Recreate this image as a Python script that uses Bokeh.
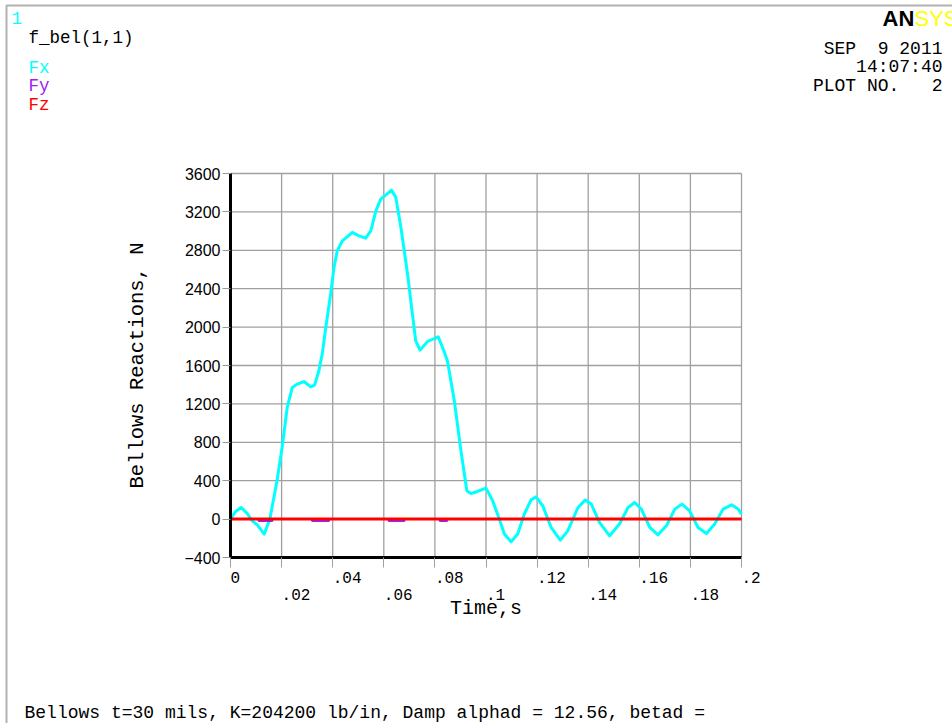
from bokeh.plotting import figure
from bokeh.models import Range1d, FixedTicker, LinearAxis, Label, BoxAnnotation
from bokeh.embed import file_html
from bokeh.resources import INLINE

# ---------------- data ----------------
time_fx = [0.0, 0.002, 0.0042, 0.0065, 0.0085, 0.0105, 0.0132, 0.0154, 0.0182, 0.0202,
           0.0222, 0.0242, 0.0261, 0.0287, 0.0314, 0.0329, 0.0346, 0.0359, 0.0373, 0.0392,
           0.0405, 0.0418, 0.0438, 0.0477, 0.0503, 0.0529, 0.0549, 0.0569, 0.0588, 0.0612,
           0.0630, 0.0647, 0.0667, 0.0693, 0.0712, 0.0725, 0.0742, 0.0771, 0.0813, 0.0830,
           0.0849, 0.0876, 0.0902, 0.0925, 0.0941, 0.0967, 0.1000, 0.1026, 0.1052, 0.1072,
           0.1098, 0.1124, 0.1150, 0.1176, 0.1196, 0.1222, 0.1255, 0.1291, 0.1320, 0.1360,
           0.1388, 0.1412, 0.1444, 0.1484, 0.1523, 0.1556, 0.1582, 0.1608, 0.1641, 0.1673,
           0.1706, 0.1739, 0.1767, 0.1797, 0.1830, 0.1863, 0.1895, 0.1928, 0.1961, 0.1987,
           0.2000]
fx = [0, 80, 121, 60, -18, -60, -156, 0, 399, 746,
      1163, 1371, 1406, 1433, 1378, 1396, 1545, 1719, 1996, 2344,
      2621, 2795, 2899, 2986, 2951, 2927, 3003, 3211, 3333, 3385,
      3427, 3350, 3038, 2552, 2135, 1857, 1760, 1850, 1899, 1788,
      1649, 1232, 711, 295, 267, 288, 323, 191, 0, -156,
      -236, -156, 52, 198, 232, 139, -87, -219, -122, 121,
      198, 156, -35, -174, -49, 121, 173, 104, -87, -164,
      -70, 104, 156, 86, -87, -150, -52, 104, 149, 104,
      52]
time_fy = [0.0, 0.0108, 0.0111, 0.0163, 0.0166, 0.0317, 0.0320, 0.0385, 0.0388,
           0.0617, 0.0620, 0.0680, 0.0683, 0.0817, 0.0820, 0.0847, 0.0850, 0.2]
fy = [0, 0, -20, -20, 0, 0, -20, -20, 0,
      0, -20, -20, 0, 0, -20, -20, 0, 0]
time_fz = [0.0, 0.2]
fz = [0, 0]

y_ticks = [-400, 0, 400, 800, 1200, 1600, 2000, 2400, 2800, 3200, 3600]
y_tick_labels = ["\u2212400", "0", "400", "800", "1200", "1600", "2000", "2400", "2800", "3200", "3600"]
x_ticks_upper = [0.0, 0.04, 0.08, 0.12, 0.16, 0.2]
x_labels_upper = ["0", ".04", ".08", ".12", ".16", ".2"]
x_ticks_lower = [0.02, 0.06, 0.1, 0.14, 0.18]
x_labels_lower = [".02", ".06", ".1", ".14", ".18"]
x_min, x_max = 0.0, 0.2
y_min, y_max = -400, 3600

series_names = ["Fx", "Fy", "Fz"]
series_colors = ["#00FFFF", "#A020F0", "#FF0000"]

# ---------------- layout (pixels) ----------------
W, H = 952, 723
PL, PR, PT, PB = 230, 741, 173, 557      # chart area inside the canvas
MONO = "Liberation Mono"
SANS = "Liberation Sans"
GRID = "#A0A0A0"

sx_per = (PR - PL) / (x_max - x_min)
sy_per = (PB - PT) / (y_max - y_min)
x_range = Range1d(x_min - PL / sx_per, x_max + (W - PR) / sx_per)
y_range = Range1d(y_min - (H - PB) / sy_per, y_max + PT / sy_per)

p = figure(width=W, height=H, output_backend="svg", toolbar_location=None,
           x_range=x_range, y_range=y_range, x_axis_location=None, y_axis_location=None,
           min_border=0, background_fill_color="white", border_fill_color="white")
p.title.visible = False
p.outline_line_color = None
p.xgrid.visible = False
p.ygrid.visible = False


def left_pad(s):
    # leading no-break spaces so a centred monospace label starts at its tick
    return "\u00a0" * len(s) + s


# grid lines limited to the chart area
x_grid = sorted(x_ticks_upper + x_ticks_lower)
p.segment(x0=x_grid, y0=[y_min] * len(x_grid), x1=x_grid, y1=[y_max] * len(x_grid),
          line_color=GRID, line_width=1.3, level="underlay")
p.segment(x0=[x_min] * len(y_ticks), y0=y_ticks, x1=[x_max] * len(y_ticks), y1=y_ticks,
          line_color=GRID, line_width=1.3, level="underlay")

# y axis
ya = LinearAxis(fixed_location=x_min, bounds=(y_min, y_max),
                ticker=FixedTicker(ticks=y_ticks),
                major_label_overrides={t: l for t, l in zip(y_ticks, y_tick_labels)})
ya.axis_line_color = "black"
ya.axis_line_width = 3
ya.major_tick_line_color = "#999999"
ya.major_tick_out = 8
ya.major_tick_in = 0
ya.minor_tick_line_color = None
ya.major_label_text_font = SANS
ya.major_label_text_font_size = "16px"
ya.major_label_text_color = "black"
ya.major_label_standoff = 2
ya.axis_label = "Bellows Reactions, N"
ya.axis_label_text_font = MONO
ya.axis_label_text_font_size = "20.5px"
ya.axis_label_text_font_style = "normal"
ya.axis_label_text_color = "black"
ya.axis_label_standoff = 32

# x axis upper row
xa = LinearAxis(fixed_location=y_min, bounds=(x_min, x_max),
                ticker=FixedTicker(ticks=x_ticks_upper, minor_ticks=x_ticks_lower),
                major_label_overrides={t: left_pad(l) for t, l in zip(x_ticks_upper, x_labels_upper)})
xa.axis_line_color = "black"
xa.axis_line_width = 3
xa.major_tick_line_color = GRID
xa.major_tick_out = 10
xa.major_tick_in = 0
xa.minor_tick_line_color = GRID
xa.minor_tick_out = 10
xa.minor_tick_in = 0
xa.major_label_text_font = MONO
xa.major_label_text_font_size = "16px"
xa.major_label_text_color = "black"
xa.major_label_standoff = 2

# x axis lower row
xb = LinearAxis(fixed_location=y_min, bounds=(x_min, x_max),
                ticker=FixedTicker(ticks=x_ticks_lower),
                major_label_overrides={t: left_pad(l) for t, l in zip(x_ticks_lower, x_labels_lower)})
xb.axis_line_color = None
xb.major_tick_line_color = None
xb.major_tick_out = 0
xb.major_tick_in = 0
xb.minor_tick_line_color = None
xb.major_label_text_font = MONO
xb.major_label_text_font_size = "16px"
xb.major_label_text_color = "black"
xb.major_label_standoff = 29
xb.axis_label = "Time,s"
xb.axis_label_text_font = MONO
xb.axis_label_text_font_size = "20px"
xb.axis_label_text_font_style = "normal"
xb.axis_label_text_color = "black"
xb.axis_label_standoff = -11

p.add_layout(ya, "left")
p.add_layout(xa, "below")
p.add_layout(xb, "below")

# series
p.line(time_fx, fx, line_color=series_colors[0], line_width=3, line_join="round")
p.line(time_fy, fy, line_color=series_colors[1], line_width=2)
p.line(time_fz, fz, line_color=series_colors[2], line_width=3)


def sy(py):
    return H - py


def text(t, x, py, size, color="black", font=MONO, align="left", style="normal"):
    # py = vertical centre of the text, measured from the top of the canvas
    p.add_layout(Label(x=x, y=sy(py), x_units="screen", y_units="screen", text=t,
                       text_font=font, text_font_size=size, text_color=color,
                       text_align=align, text_baseline="middle", text_font_style=style))


# outer frame
p.add_layout(BoxAnnotation(left=6, right=W + 20, top=sy(5), bottom=-20,
                           left_units="screen", right_units="screen",
                           top_units="screen", bottom_units="screen",
                           fill_alpha=0, line_color="black", line_width=2))

text("1", 11, 17, "17.5px", color="#00FFFF")
text("f_bel(1,1)", 28, 37, "17.5px")
for i, (n, c) in enumerate(zip(series_names, series_colors)):
    text(n, 28, 67 + 18.5 * i, "17.5px", color=c)

text("AN", 882, 18, "22px", font=SANS, style="bold")
text("SYS", 914, 18, "22px", color="#FFFF00", font=SANS)
text("SEP\u00a0\u00a09 2011", 942, 48, "18px", align="right")
text("14:07:40", 942, 66, "18px", align="right")
text("PLOT NO.\u00a0\u00a0\u00a02", 942, 85, "18px", align="right")
text("Bellows t=30 mils, K=204200 lb/in, Damp alphad = 12.56, betad =", 24, 712, "18px")

open("out.html", "w").write(file_html(p, INLINE))
